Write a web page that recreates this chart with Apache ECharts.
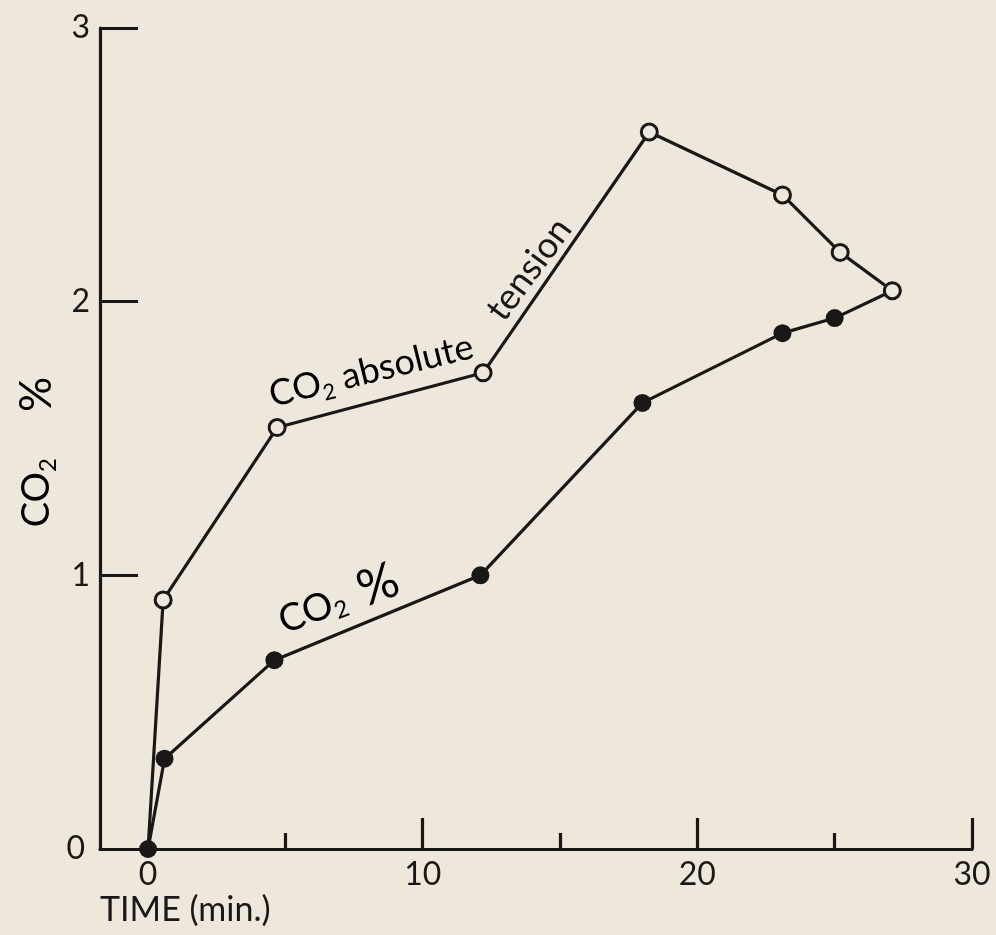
<!DOCTYPE html>
<html><head><meta charset="utf-8">
<script src="https://cdn.jsdelivr.net/npm/echarts@6/dist/echarts.min.js"></script>
<style>html,body{margin:0;padding:0;background:#eee7dc;} #c{width:996px;height:935px;}</style>
</head><body><div id="c"></div>
<script>
// CO2 absolute tension (open circles)
const timeTension = [0, 0.55, 4.7, 12.2, 18.25, 23.1, 25.2, 27.1];
const tension     = [0, 0.91, 1.54, 1.74, 2.62, 2.39, 2.18, 2.04];
// CO2 % (filled circles)
const timePercent = [0, 0.6, 4.6, 12.1, 18.0, 23.1, 25.0, 27.1];
const percent     = [0, 0.33, 0.69, 1.0, 1.63, 1.885, 1.94, 2.04];
// axis ticks / labels
const xLabelValues = [0, 10, 20, 30];
const xMajorTicks = [10, 20, 30];
const xMinorTicks = [5, 15, 25];

const INK = '#1a1816';
const BG = '#eee7dc';
const FONT = 'Lato';

const chart = echarts.init(document.getElementById('c'), null, {renderer: 'canvas'});

const tensionData = timeTension.map((t, i) => i === 0 ? {value: [t, tension[i]], symbol: 'none'} : [t, tension[i]]);
const percentData = timePercent.map((t, i) => [t, percent[i]]);

function coRich(size, pctSize, pctGap) {
  return {
    a: {fontFamily: FONT, fontSize: size, color: INK, lineHeight: size},
    s: {fontFamily: FONT, fontSize: Math.round(size * 0.62), color: INK, verticalAlign: 'top', padding: [Math.round(size * 0.6), 0, 0, 0]},
    p: {fontFamily: FONT, fontSize: pctSize || size, color: INK, padding: [0, 0, 0, pctGap || 0]}
  };
}

const LW = 3.2;
const option = {
  backgroundColor: BG,
  animation: false,
  grid: {left: 100, right: 24, top: 28, bottom: 86, containLabel: false},
  xAxis: [{
    type: 'value', min: -1.75, max: 30,
    splitLine: {show: false},
    axisLine: {show: true, onZero: false, lineStyle: {color: INK, width: LW}},
    axisTick: {show: true, inside: true, length: 31, customValues: xMajorTicks, lineStyle: {color: INK, width: LW}},
    axisLabel: {show: true, customValues: xLabelValues, margin: 10, fontFamily: FONT, fontSize: 32, color: INK}
  }, {
    type: 'value', min: -1.75, max: 30, position: 'bottom', gridIndex: 0,
    splitLine: {show: false},
    axisLine: {show: false, onZero: false},
    axisTick: {show: true, inside: true, length: 16, customValues: xMinorTicks, lineStyle: {color: INK, width: LW}},
    axisLabel: {show: false}
  }],
  yAxis: {
    type: 'value', min: 0, max: 3, interval: 1,
    splitLine: {show: false},
    axisLine: {show: true, onZero: false, lineStyle: {color: INK, width: LW}},
    axisTick: {show: true, inside: true, length: 38, lineStyle: {color: INK, width: LW}},
    axisLabel: {
      margin: 10, fontFamily: FONT, fontSize: 32, color: INK,
      formatter: v => v === 0 ? '{z|0}' : String(v),
      rich: {z: {fontFamily: FONT, fontSize: 32, color: INK, padding: [0, 5, 0, 0]}}
    }
  },
  series: [{
    name: 'CO2 %', type: 'line', xAxisIndex: 0, data: percentData,
    symbol: 'circle', symbolSize: 18,
    lineStyle: {color: INK, width: LW},
    itemStyle: {color: INK},
    z: 2
  }, {
    name: 'CO2 absolute tension', type: 'line', xAxisIndex: 0, data: tensionData,
    symbol: 'circle', symbolSize: 16,
    lineStyle: {color: INK, width: LW},
    itemStyle: {color: BG, borderColor: INK, borderWidth: 3},
    z: 3
  }],
  graphic: [
    {type: 'text', x: 100, y: 893, style: {text: 'TIME (min.)', fontFamily: FONT, fontSize: 34, fill: INK}},
    {type: 'text', x: 37, y: 452, rotation: Math.PI / 2,
     style: {text: '{a|CO}{s|2}{p|%}', rich: coRich(38, 44, 46), align: 'center', verticalAlign: 'middle'}},
    {type: 'text', x: 275, y: 417, rotation: 13.7 * Math.PI / 180,
     style: {text: '{a|CO}{s|2}{a| absolute}', rich: coRich(36), align: 'left', verticalAlign: 'bottom'}},
    {type: 'text', x: 509, y: 327, rotation: 53.5 * Math.PI / 180,
     style: {text: 'tension', fontFamily: FONT, fontSize: 36, fill: INK, align: 'left', verticalAlign: 'bottom'}},
    {type: 'text', x: 289, y: 646, rotation: 21 * Math.PI / 180,
     style: {text: '{a|CO}{s|2}{p|%}', rich: coRich(38, 50, 16), align: 'left', verticalAlign: 'bottom'}}
  ]
};
chart.setOption(option);
</script>
</body></html>
